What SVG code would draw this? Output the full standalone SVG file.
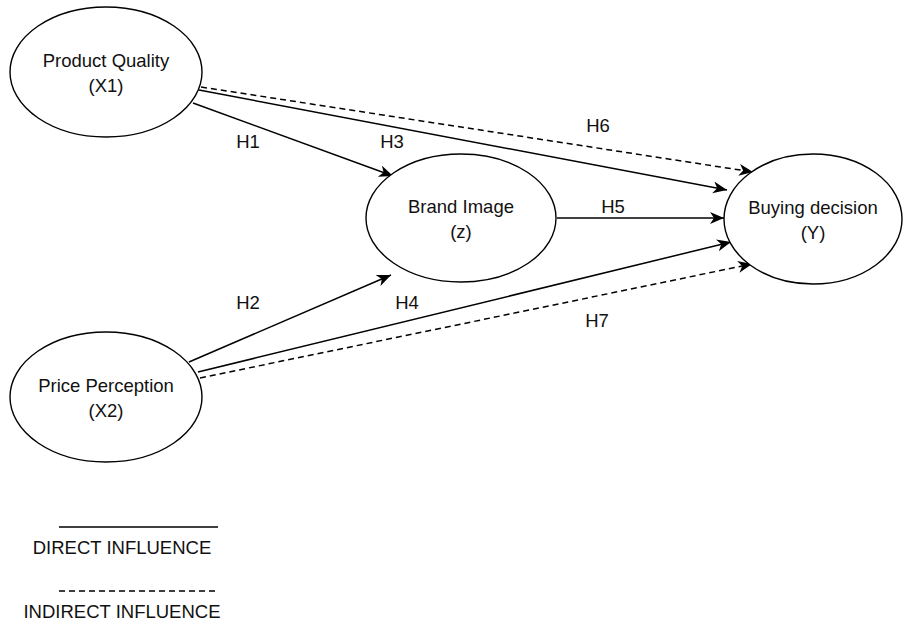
<svg xmlns="http://www.w3.org/2000/svg" width="904" height="622" viewBox="0 0 904 622">
<style>
.node ellipse{fill:#fff;stroke:#000;stroke-width:1.4}
text{font-family:"Liberation Sans",Arial,sans-serif;font-size:18.5px;fill:#111;text-anchor:middle}
.c{fill:none;stroke:#000;stroke-width:1.5}
.d{stroke-dasharray:6 4}
</style>
<defs>
<marker id="ah" markerUnits="userSpaceOnUse" markerWidth="16" markerHeight="14" refX="14" refY="6" orient="auto">
<path d="M0,0 L14,6 L0,12 L4,6 Z" fill="#000"/>
</marker>
</defs>
<g id="connectors">
<line class="c" x1="193" y1="103" x2="393" y2="176" marker-end="url(#ah)"/>
<line class="c" x1="199" y1="90" x2="727" y2="190" marker-end="url(#ah)"/>
<line class="c d" x1="201" y1="87" x2="753" y2="172" marker-end="url(#ah)"/>
<line class="c" x1="557" y1="218" x2="724" y2="218" marker-end="url(#ah)"/>
<line class="c" x1="189" y1="362" x2="391" y2="275" marker-end="url(#ah)"/>
<line class="c" x1="198" y1="372" x2="731" y2="242" marker-end="url(#ah)"/>
<line class="c d" x1="200" y1="378" x2="752" y2="264" marker-end="url(#ah)"/>
<text x="248" y="148">H1</text>
<text x="392" y="148">H3</text>
<text x="598" y="132">H6</text>
<text x="613" y="213">H5</text>
<text x="248" y="309">H2</text>
<text x="407" y="309">H4</text>
<text x="597" y="327">H7</text>
</g>
<g id="productQuality" class="node">
<ellipse cx="106" cy="72" rx="96" ry="65"/>
<text x="106" y="67">Product Quality</text>
<text x="106" y="92">(X1)</text>
</g>
<g id="brandImage" class="node">
<ellipse cx="461" cy="218" rx="95" ry="64"/>
<text x="461" y="213">Brand Image</text>
<text x="461" y="238">(z)</text>
</g>
<g id="buyingDecision" class="node">
<ellipse cx="813" cy="219" rx="89" ry="65"/>
<text x="813" y="214">Buying decision</text>
<text x="813" y="239">(Y)</text>
</g>
<g id="pricePerception" class="node">
<ellipse cx="106" cy="397" rx="96" ry="65"/>
<text x="106" y="392">Price Perception</text>
<text x="106" y="417">(X2)</text>
</g>
<g id="legend">
<line class="c" x1="59" y1="527" x2="218" y2="527"/>
<text x="122" y="554">DIRECT INFLUENCE</text>
<line class="c d" x1="59" y1="591" x2="218" y2="591"/>
<text x="122" y="618">INDIRECT INFLUENCE</text>
</g>
</svg>
